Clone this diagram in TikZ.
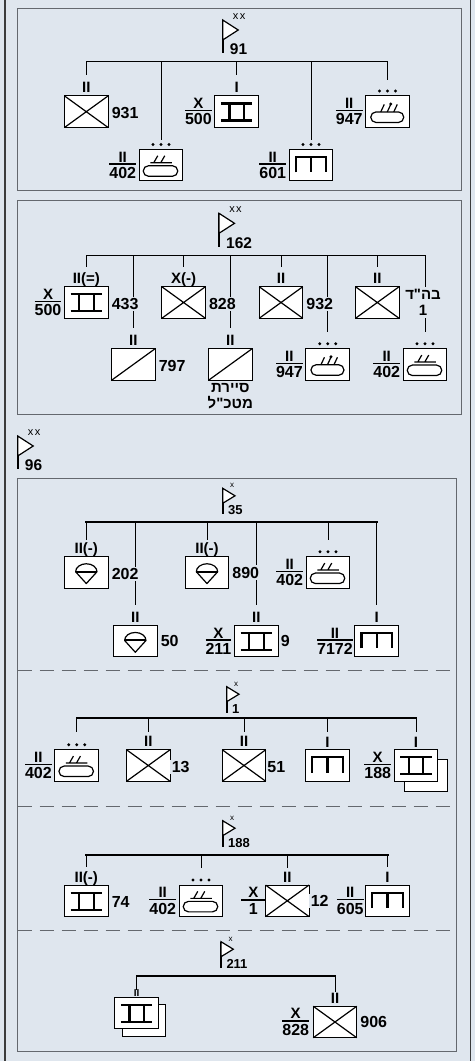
\documentclass[tikz,border=0pt]{standalone}
\usepackage{fontspec}
\setmainfont{Liberation Sans}
\newfontfamily\hebfam[Script=Hebrew]{Liberation Sans}
\TeXXeTstate=1
\usetikzlibrary{calc}
\definecolor{bgc}{RGB}{223,230,238}
\definecolor{secc}{RGB}{100,104,110}
\definecolor{framec}{RGB}{60,60,60}
\newcommand\rnum{\fontsize{16}{16}\selectfont\bfseries}
\newcommand\rech{\fontsize{15}{15}\selectfont\bfseries}
\newcommand\rflag{\fontsize{15.5}{15.5}\selectfont\bfseries}
\newcommand\rsflag{\fontsize{13}{13}\selectfont\bfseries}
\newcommand\rheb{\hebfam\fontsize{15}{16}\selectfont\bfseries}
% fractions
\newcommand\rfr[2]{\vbox{\offinterlineskip\halign{\hfil##\hfil\cr\rech #1\cr\noalign{\kern1.3pt\hrule height1.4pt\kern2.5pt}\rnum #2\cr}}}
\newcommand\rfrw[3]{\vbox{\offinterlineskip\halign{\hfil##\hfil\cr\rech #1\cr\noalign{\kern1.3pt\hrule height1.4pt\kern2.5pt}\rnum #2\cr\hbox to #3{}\cr}}}
% symbols
\newcommand\sInf[1]{\draw[sym] (#1.north west) -- (#1.south east) (#1.south west) -- (#1.north east);}
\newcommand\sRec[1]{\draw[sym] (#1.south west) -- (#1.north east);}
\newcommand\sMech[1]{\draw[symt] ($(#1.north west)+(6,7.5)$) -- ++(31.5,0) ($(#1.north west)+(6,24.5)$) -- ++(31.5,0) ($(#1.north west)+(14.5,7.5)$) -- ++(0,17) ($(#1.north west)+(29,7.5)$) -- ++(0,17);}
\newcommand\sEng[1]{\draw[symt] ($(#1.north west)+(6.5,23)$) -- ++(0,-15.5) -- ++(30.5,0) -- ++(0,15.5) ($(#1.north west)+(21.75,7.5)$) -- ++(0,15.5);}
\newcommand\sArm[1]{\draw[sym, rounded corners=5.2pt] ($(#1.north west)+(4,16.3)$) rectangle ($(#1.north west)+(38.5,26.8)$);
 \draw[sym] ($(#1.north west)+(11,13.3)$) -- ++(21.5,0) ($(#1.north west)+(14.5,13.3)$) -- ++(4,-7) ($(#1.north west)+(21.5,13.3)$) -- ++(4,-7);}
\newcommand\sArt[1]{\draw[sym, rounded corners=5.2pt] ($(#1.north west)+(5,16)$) rectangle ($(#1.north west)+(38,26.5)$);
 \draw[sym] ($(#1.north west)+(15,16)$) -- ++(3.5,-7.5) ($(#1.north west)+(21.5,16)$) -- ++(3.5,-7.5) ($(#1.north west)+(28,16)$) -- ++(3.5,-7.5);
 \fill ($(#1.north west)+(25,8)$) circle[radius=1.7pt];}
\newcommand\sAb[1]{\draw[line width=1.2pt, line join=round] ($(#1.north)+(-10.7,15)$) arc[start angle=180, end angle=0, x radius=10.7pt, y radius=8pt] -- ($(#1.north)+(0,26.8)$) -- cycle;
 \draw[line width=2pt] ($(#1.north)+(-10.7,15)$) -- ($(#1.north)+(10.7,15)$);}
\newcommand\sDots[1]{\foreach \dd in {-8,0,8}{\fill ($(#1.north)+(\dd,-5)$) circle[radius=1.6pt];}}
% flags
\newcommand\bigflag[4]{%
 \draw[line width=2pt] (#2,#3) -- (#2,#3+33.3);
 \draw[line width=1.2pt, fill=white] (#2,#3) -- (#2+15.5,#3+10) -- (#2,#3+20) -- cycle;
 \node[font=\fontsize{11}{11}\selectfont, inner sep=0pt] (#1x) at (#2+16.5,#3-3.8) {x\kern1.5pt x};
 \node[font=\rflag, inner sep=0pt, anchor=base west] (#1n) at (#2+7,#3+34.8) {#4};}
\newcommand\smallflag[4]{%
 \draw[line width=2pt] (#2,#3) -- (#2,#3+26);
 \draw[line width=1.2pt, fill=white] (#2,#3) -- (#2+12.3,#3+7.5) -- (#2,#3+15) -- cycle;
 \node[font=\fontsize{8}{8}\selectfont, inner sep=0pt] (#1x) at (#2+9.5,#3-2.5) {x};
 \node[font=\rsflag, inner sep=0pt, anchor=base west] (#1n) at (#2+5.3,#3+26.5) {#4};}
\begin{document}
\begin{tikzpicture}[x=1pt,y=-1pt,
 unit/.style={draw=black, fill=white, line width=1pt, minimum width=43.5pt, minimum height=31.5pt, inner sep=0pt, outer sep=0pt},
 sym/.style={line width=1.2pt},
 symt/.style={line width=2.1pt},
 conn/.style={line width=1pt},
 busthin/.style={line width=1pt, line cap=rect},
 busthick/.style={line width=2pt, line cap=rect},
 ech/.style={font=\rech, inner sep=0pt, anchor=base},
 frac/.style={inner sep=0pt, anchor=east},
 lab/.style={font=\rnum, inner sep=1.5pt, fill=bgc, anchor=west},
 sect/.style={draw=secc, line width=1pt},
 sepline/.style={draw=secc, line width=1pt, dash pattern=on 14pt off 8pt},
]
\useasboundingbox (0,0) rectangle (475,1061);
\fill[bgc] (0,0) rectangle (475,1061);
\draw[framec, line width=1.5pt] (5,-5) -- (5,1066) (470.7,-5) -- (470.7,1066);
% section frames
\draw[sect] (17.5,8.3) rectangle (461.7,190.7);
\draw[sect] (17.5,200) rectangle (461.7,414.3);
\draw[sect] (17.5,478.3) rectangle (456,1051.7);
\draw[sepline] (17.5,670) -- (456,670);
\draw[sepline] (17.5,806.7) -- (456,806.7);
\draw[sepline] (17.5,930) -- (456,930);

% ================= Section 91
\bigflag{f91}{222.7}{20}{91}
\node[unit] (u931) at (86.3,111.7) {};
\node[unit] (u402a) at (161,165.2) {};
\node[unit] (u500) at (236.7,111.7) {};
\node[unit] (u601) at (311,165.2) {};
\node[unit] (u947a) at (387.5,111.7) {};
\coordinate (B1) at (0,61.7);
\draw[busthin] (u931.north |- B1) -- (u947a.north |- B1);
\draw[conn, shorten >=21pt] (u931.north |- B1) -- (u931.north);
\draw[conn, shorten >=9.3pt] (u402a.north |- B1) -- (u402a.north);
\draw[conn, shorten >=21pt] (u500.north |- B1) -- (u500.north);
\draw[conn, shorten >=9.3pt] (u601.north |- B1) -- (u601.north);
\draw[conn, shorten >=16pt] (u947a.north |- B1) -- (u947a.north);
\sInf{u931} \sArm{u402a} \sMech{u500} \sEng{u601} \sArt{u947a}
\sDots{u402a} \sDots{u601} \sDots{u947a}
\node[ech] (e931) at ($(u931.north)+(0,-3)$) {II};
\node[ech] (e500) at ($(u500.north)+(0,-3)$) {I};
\node[frac] (q402a) at ($(u402a.west)+(-3,0)$) {\rfr{II}{402}};
\node[frac] (q500) at ($(u500.west)+(-3,0)$) {\rfr{X}{500}};
\node[frac] (q601) at ($(u601.west)+(-3,0)$) {\rfr{II}{601}};
\node[frac] (q947a) at ($(u947a.west)+(-3,0)$) {\rfr{II}{947}};
\node[lab] (l931) at ($(u931.east)+(2,1.5)$) {931};

% ================= Section 162
\bigflag{f162}{219}{213.3}{162}
\node[unit] (u433) at (86.3,302.5) {};
\node[unit] (u828) at (183.6,302.5) {};
\node[unit] (u932) at (281,302.5) {};
\node[unit] (ubhd) at (377.3,302.5) {};
\node[unit] (u797) at (133.3,364.5) {};
\node[unit] (usay) at (230.3,364.5) {};
\node[unit] (u947b) at (327.7,364.5) {};
\node[unit] (u402b) at (425,364.5) {};
\coordinate (B2) at (0,255);
\draw[busthin] (u433.north |- B2) -- (u402b.north |- B2);
\draw[conn, shorten >=20pt] (u433.north |- B2) -- (u433.north);
\draw[conn, shorten >=20pt] (u828.north |- B2) -- (u828.north);
\draw[conn, shorten >=20pt] (u932.north |- B2) -- (u932.north);
\draw[conn, shorten >=20pt] (ubhd.north |- B2) -- (ubhd.north);
\draw[conn, shorten >=20.4pt] (u797.north |- B2) -- (u797.north);
\draw[conn, shorten >=20.4pt] (usay.north |- B2) -- (usay.north);
\draw[conn, shorten >=16.5pt] (u947b.north |- B2) -- (u947b.north);
\draw[conn, shorten >=16.5pt] (u402b.north |- B2) -- (u402b.north);
\sMech{u433} \sInf{u828} \sInf{u932} \sInf{ubhd}
\sRec{u797} \sRec{usay} \sArt{u947b} \sArm{u402b}
\sDots{u947b} \sDots{u402b}
\node[ech] (e433) at ($(u433.north)+(0,-3)$) {II(=)};
\node[ech] (e828) at ($(u828.north)+(0,-3)$) {X(-)};
\node[ech] (e932) at ($(u932.north)+(0,-3)$) {II};
\node[ech] (ebhd) at ($(ubhd.north)+(0,-3)$) {II};
\node[ech] (e797) at ($(u797.north)+(0,-3)$) {II};
\node[ech] (esay) at ($(usay.north)+(0,-3)$) {II};
\node[frac] (q433) at ($(u433.west)+(-3,0)$) {\rfr{X}{500}};
\node[frac] (q947b) at ($(u947b.west)+(-3,0)$) {\rfr{II}{947}};
\node[frac] (q402b) at ($(u402b.west)+(-3,0)$) {\rfr{II}{402}};
\node[lab] (l433) at ($(u433.east)+(2,1.5)$) {433};
\node[lab] (l828) at ($(u828.east)+(2,1.5)$) {828};
\node[lab] (l932) at ($(u932.east)+(2,1.5)$) {932};
\node[lab] (l797) at ($(u797.east)+(2,1.5)$) {797};
\node[lab, anchor=center, align=center, font=\rheb, inner sep=2pt] (lbhd) at ($(ubhd.east)+(24,0)$) {\beginR בה"ד\endR\\1};
\node[font=\rheb, align=center, inner sep=0pt, anchor=north] (lsay) at ($(usay.south)+(0,3)$) {\beginR סיירת\endR\\\beginR מטכ"ל\endR};

% ================= Section 96
\bigflag{f96}{17.7}{436}{96}

% ---- 35
\smallflag{f35}{222.7}{488.3}{35}
\node[unit] (u202) at (86.3,572.5) {};
\node[unit] (u890) at (207,572.5) {};
\node[unit] (u402c) at (328,572.5) {};
\node[unit] (u50) at (135.3,641.2) {};
\node[unit] (u9) at (256.3,641.2) {};
\node[unit] (u7172) at (376.7,641.2) {};
\coordinate (B35) at (0,521.7);
\draw[busthick] (u202.north |- B35) -- (u7172.north |- B35);
\draw[conn, shorten >=16.7pt] (u202.north |- B35) -- (u202.north);
\draw[conn, shorten >=16.7pt] (u890.north |- B35) -- (u890.north);
\draw[conn, shorten >=16.7pt] (u402c.north |- B35) -- (u402c.north);
\draw[conn, shorten >=20.5pt] (u50.north |- B35) -- (u50.north);
\draw[conn, shorten >=20.5pt] (u9.north |- B35) -- (u9.north);
\draw[conn, shorten >=20.5pt] (u7172.north |- B35) -- (u7172.north);
\sAb{u202} \sAb{u890} \sArm{u402c} \sAb{u50} \sMech{u9} \sEng{u7172}
\sDots{u402c}
\node[ech] (e202) at ($(u202.north)+(0,-3)$) {II(-)};
\node[ech] (e890) at ($(u890.north)+(0,-3)$) {II(-)};
\node[ech] (e50) at ($(u50.north)+(0,-3)$) {II};
\node[ech] (e9) at ($(u9.north)+(0,-3)$) {II};
\node[ech] (e7172) at ($(u7172.north)+(0,-3)$) {I};
\node[frac] (q402c) at ($(u402c.west)+(-3,0)$) {\rfr{II}{402}};
\node[frac] (q9) at ($(u9.west)+(-3,0)$) {\rfr{X}{211}};
\node[frac] (q7172) at ($(u7172.west)+(-2,0)$) {\rfr{II}{7172}};
\node[lab] (l202) at ($(u202.east)+(2,1.5)$) {202};
\node[lab] (l890) at ($(u890.east)+(2,0)$) {890};
\node[lab] (l50) at ($(u50.east)+(2,0)$) {50};
\node[lab] (l9) at ($(u9.east)+(1,0)$) {9};

% ---- 1
\smallflag{f1}{226.7}{686.7}{1}
\node[unit] (u402d) at (76.7,765.5) {};
\node[unit] (u13) at (148.3,765.5) {};
\node[unit] (u51) at (244,765.5) {};
\node[unit] (ueng1) at (327.5,765.5) {};
\node[unit] (u188b) at (426,775.5) {};
\node[unit] (u188) at (416,765.5) {};
\coordinate (B1b) at (0,718.3);
\draw[busthick] (u402d.north |- B1b) -- (u188.north |- B1b);
\draw[conn, shorten >=18pt] (u402d.north |- B1b) -- (u402d.north);
\draw[conn, shorten >=18pt] (u13.north |- B1b) -- (u13.north);
\draw[conn, shorten >=18pt] (u51.north |- B1b) -- (u51.north);
\draw[conn, shorten >=18pt] (ueng1.north |- B1b) -- (ueng1.north);
\draw[conn, shorten >=18pt] (u188.north |- B1b) -- (u188.north);
\sArm{u402d} \sInf{u13} \sInf{u51} \sEng{ueng1} \sMech{u188}
\sDots{u402d}
\node[ech] (e13) at ($(u13.north)+(0,-3)$) {II};
\node[ech] (e51) at ($(u51.north)+(0,-3)$) {II};
\node[ech] (eeng1) at ($(ueng1.north)+(0,-2)$) {I};
\node[ech] (e188) at ($(u188.north)+(0,-2)$) {I};
\node[frac] (q402d) at ($(u402d.west)+(-3,0)$) {\rfr{II}{402}};
\node[frac] (q188) at ($(u188.west)+(-3,0)$) {\rfr{X}{188}};
\node[lab] (l13) at ($(u13.east)+(0,1.5)$) {13};
\node[lab] (l51) at ($(u51.east)+(0,1.5)$) {51};

% ---- 188
\smallflag{f188}{222.7}{820.7}{188}
\node[unit] (u74) at (86.3,900.8) {};
\node[unit] (u402e) at (201,900.8) {};
\node[unit] (u12) at (287.3,900.8) {};
\node[unit] (u605) at (387.5,900.8) {};
\coordinate (B188) at (0,855);
\draw[busthick] (u74.north |- B188) -- (u605.north |- B188);
\draw[conn, shorten >=18.3pt] (u74.north |- B188) -- (u74.north);
\draw[conn, shorten >=16.7pt] (u402e.north |- B188) -- (u402e.north);
\draw[conn, shorten >=16.7pt] (u12.north |- B188) -- (u12.north);
\draw[conn, shorten >=18.3pt] (u605.north |- B188) -- (u605.north);
\sMech{u74} \sArm{u402e} \sInf{u12} \sEng{u605}
\sDots{u402e}
\node[ech] (e74) at ($(u74.north)+(0,-3)$) {II(-)};
\node[ech] (e12) at ($(u12.north)+(0,-3)$) {II};
\node[ech] (e605) at ($(u605.north)+(0,-3)$) {I};
\node[frac] (q402e) at ($(u402e.west)+(-3,0)$) {\rfr{II}{402}};
\node[frac] (q12) at ($(u12.west)+(0,0)$) {\rfrw{X}{1}{24pt}};
\node[frac] (q605) at ($(u605.west)+(-2,0)$) {\rfr{II}{605}};
\node[lab] (l74) at ($(u74.east)+(2,1.5)$) {74};
\node[lab] (l12) at ($(u12.east)+(0,0)$) {12};

% ---- 211
\smallflag{f211}{221}{941.7}{211}
\node[unit] (u211b) at (144.2,1020.5) {};
\node[unit] (u211) at (136.7,1012.8) {};
\node[unit] (u906) at (335,1022) {};
\coordinate (B211) at (0,975.7);
\draw[busthick] (u211.north |- B211) -- (u906.north |- B211);
\draw[conn, shorten >=7pt] (u211.north |- B211) -- (u211.north);
\draw[conn, shorten >=14.5pt] (u906.north |- B211) -- (u906.north);
\sMech{u211} \sInf{u906}
\node[ech, font=\fontsize{10}{10}\selectfont\bfseries] (e211) at ($(u211.north)+(0,-0.5)$) {II};
\node[ech] (e906) at ($(u906.north)+(0,-3)$) {II};
\node[frac] (q906) at ($(u906.west)+(-4,0)$) {\rfr{X}{828}};
\node[lab] (l906) at ($(u906.east)+(2,0)$) {906};
\end{tikzpicture}
\end{document}
